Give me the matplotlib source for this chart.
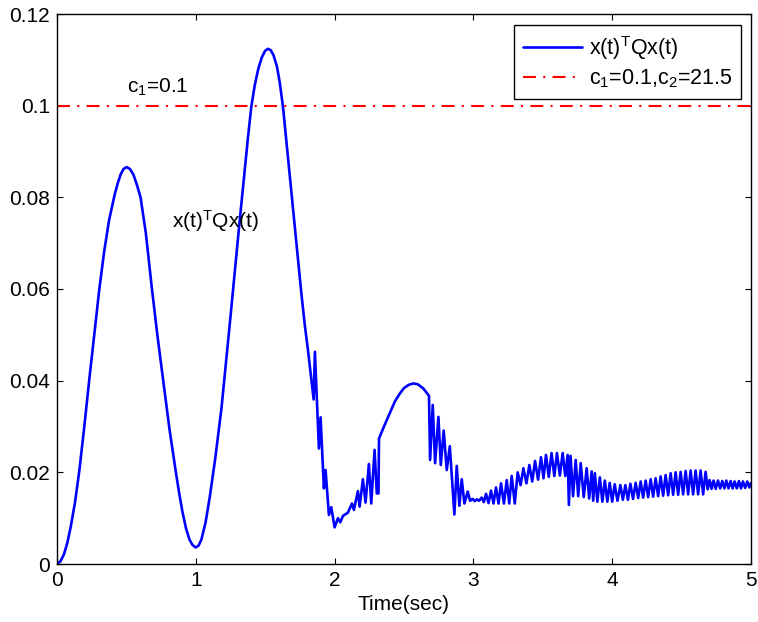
import matplotlib
matplotlib.use("Agg")
import matplotlib.pyplot as plt
import numpy as np

plt.rcParams['font.family'] = ['Liberation Sans', 'DejaVu Sans']
plt.rcParams['mathtext.fontset'] = 'custom'
plt.rcParams['mathtext.rm'] = 'Liberation Sans'
plt.rcParams['mathtext.it'] = 'Liberation Sans:italic'
plt.rcParams['mathtext.bf'] = 'Liberation Sans:bold'

# ---- data ----
# smooth start (two humps)
t_smooth = [0.000, 0.025, 0.050, 0.075, 0.100, 0.130, 0.161, 0.195, 0.232, 0.268, 0.305, 0.340, 0.375,
            0.417, 0.440, 0.460, 0.480, 0.501, 0.525, 0.550, 0.575, 0.602, 0.640, 0.684, 0.725, 0.765,
            0.810, 0.856, 0.880, 0.905, 0.930, 0.955, 0.975, 0.998, 1.020, 1.040, 1.070, 1.101, 1.140,
            1.185, 1.220, 1.250, 1.280, 1.312, 1.350, 1.375, 1.400, 1.425, 1.450, 1.475, 1.500, 1.520,
            1.540, 1.560, 1.585, 1.605, 1.628, 1.650, 1.670, 1.690, 1.712, 1.735, 1.760, 1.785, 1.808,
            1.830, 1.849]
v_smooth = [0.0000, 0.0006, 0.0021, 0.0047, 0.0083, 0.0135, 0.0204, 0.0295, 0.0401, 0.0500, 0.0600, 0.0682, 0.0750,
            0.0808, 0.0833, 0.0851, 0.0862, 0.0866, 0.0862, 0.0850, 0.0828, 0.0800, 0.0722, 0.0600, 0.0495, 0.0401,
            0.0295, 0.0201, 0.0155, 0.0112, 0.0077, 0.0053, 0.0042, 0.0036, 0.0040, 0.0053, 0.0090, 0.0147, 0.0230,
            0.0340, 0.0447, 0.0540, 0.0636, 0.0736, 0.0852, 0.0928, 0.0998, 0.1045, 0.1080, 0.1105, 0.1120, 0.1124,
            0.1121, 0.1110, 0.1085, 0.1050, 0.0998, 0.0930, 0.0868, 0.0805, 0.0736, 0.0666, 0.0592, 0.0522, 0.0467,
            0.0410, 0.0359]

# first switching burst
t_burst1 = [1.858, 1.887, 1.899, 1.923, 1.935, 1.959, 1.976, 2.000, 2.024, 2.041, 2.060, 2.075, 2.096,
            2.125, 2.139, 2.168, 2.180, 2.204, 2.223, 2.247, 2.264, 2.288, 2.304, 2.316]
v_burst1 = [0.0463, 0.0252, 0.0320, 0.0165, 0.0205, 0.0107, 0.0124, 0.0080, 0.0100, 0.0091, 0.0105, 0.0108, 0.0112,
            0.0132, 0.0118, 0.0159, 0.0125, 0.0185, 0.0134, 0.0218, 0.0132, 0.0249, 0.0154, 0.0154]

# smooth middle hump
t_hump = [2.320, 2.360, 2.400, 2.435, 2.468, 2.500, 2.535, 2.567, 2.600, 2.639, 2.680]
v_hump = [0.0274, 0.0303, 0.0331, 0.0355, 0.0371, 0.0384, 0.0391, 0.0394, 0.0392, 0.0383, 0.0367]

# second switching burst
t_burst2 = [2.688, 2.707, 2.724, 2.748, 2.765, 2.786, 2.808, 2.830, 2.863, 2.880, 2.899, 2.916,
            2.935, 2.959, 2.976, 2.995, 3.010, 3.025, 3.040, 3.055]
v_burst2 = [0.0227, 0.0347, 0.0220, 0.0321, 0.0216, 0.0291, 0.0205, 0.0257, 0.0108, 0.0214, 0.0127, 0.0185,
            0.0132, 0.0158, 0.0138, 0.0142, 0.0137, 0.0141, 0.0138, 0.0143]

# chattering tail
t_tail = [3.059, 3.075, 3.091, 3.109, 3.127, 3.145, 3.163, 3.181, 3.199, 3.220, 3.240, 3.258, 3.276, 3.298,
          3.319, 3.340, 3.360, 3.382, 3.403, 3.424, 3.444, 3.466, 3.487, 3.505, 3.523, 3.543, 3.563, 3.583,
          3.602, 3.623, 3.643, 3.662, 3.679, 3.688, 3.700, 3.718, 3.737, 3.755, 3.773, 3.795, 3.816, 3.834,
          3.852, 3.863, 3.875, 3.893, 3.911, 3.929, 3.947, 3.965, 3.982, 4.000, 4.018, 4.038, 4.059, 4.077,
          4.095, 4.113, 4.131, 4.150, 4.169, 4.187, 4.205, 4.223, 4.241, 4.259, 4.277, 4.295, 4.313, 4.331,
          4.349, 4.367, 4.385, 4.403, 4.421, 4.439, 4.457, 4.475, 4.493, 4.511, 4.529, 4.547, 4.565, 4.583,
          4.601, 4.619, 4.637, 4.655, 4.673, 4.688, 4.702, 4.716, 4.730, 4.746, 4.762, 4.778, 4.793, 4.808,
          4.822, 4.838, 4.853, 4.868, 4.882, 4.898, 4.913, 4.928, 4.942, 4.958, 4.973, 4.988, 5.000]
v_tail = [0.0145, 0.0135, 0.0153, 0.0133, 0.0160, 0.0132, 0.0167, 0.0132, 0.0176, 0.0132, 0.0183, 0.0132, 0.0192, 0.0132,
          0.0200, 0.0172, 0.0209, 0.0176, 0.0216, 0.0180, 0.0225, 0.0184, 0.0233, 0.0187, 0.0238, 0.0190, 0.0242, 0.0192,
          0.0242, 0.0193, 0.0242, 0.0192, 0.0238, 0.0129, 0.0236, 0.0148, 0.0227, 0.0148, 0.0220, 0.0146, 0.0209, 0.0143,
          0.0202, 0.0138, 0.0198, 0.0136, 0.0189, 0.0136, 0.0182, 0.0136, 0.0177, 0.0136, 0.0174, 0.0138, 0.0172, 0.0140,
          0.0172, 0.0140, 0.0175, 0.0142, 0.0177, 0.0144, 0.0180, 0.0145, 0.0182, 0.0146, 0.0185, 0.0147, 0.0187, 0.0148,
          0.0191, 0.0149, 0.0194, 0.0150, 0.0198, 0.0151, 0.0200, 0.0151, 0.0201, 0.0152, 0.0203, 0.0152, 0.0204, 0.0152,
          0.0204, 0.0152, 0.0204, 0.0152, 0.0201, 0.0163, 0.0183, 0.0164, 0.0182, 0.0164, 0.0182, 0.0165, 0.0181, 0.0165,
          0.0182, 0.0165, 0.0181, 0.0165, 0.0180, 0.0165, 0.0181, 0.0165, 0.0180, 0.0166, 0.0180, 0.0167, 0.0177]

c1 = 0.1
series_label = r'x(t)$^{\rm T}$Qx(t)'
bound_label = r'c$_{\rm 1}$=0.1,c$_{\rm 2}$=21.5'
x_ticks = [0, 1, 2, 3, 4, 5]
y_ticks = [0, 0.02, 0.04, 0.06, 0.08, 0.1, 0.12]
y_ticklabels = ['0', '0.02', '0.04', '0.06', '0.08', '0.1', '0.12']

t_all = np.array(t_smooth + t_burst1 + t_hump + t_burst2 + t_tail)
v_all = np.array(v_smooth + v_burst1 + v_hump + v_burst2 + v_tail)

fig = plt.figure(figsize=(7.58, 6.22), dpi=100)
ax = fig.add_axes([57/758, 1-564/622, (751-57)/758, (564-14)/622])

ax.plot(t_all, v_all, color='#0000ff', lw=1.9, label=series_label,
        solid_joinstyle='round', solid_capstyle='round')
ax.axhline(c1, color='#ff0000', lw=1.5, ls=(0, (6.2, 3.5, 1, 3.5)), label=bound_label)

ax.set_xlim(0, 5)
ax.set_ylim(0, 0.12)
ax.set_xticks(x_ticks)
ax.set_yticks(y_ticks)
ax.set_yticklabels(y_ticklabels)
ax.tick_params(direction='in', length=4.5, width=0.8, top=True, right=True,
               labelsize=15, pad=5)
for s in ax.spines.values():
    s.set_linewidth(1.0)
ax.set_xlabel('Time(sec)', fontsize=15, labelpad=4)

ax.text(0.504, 0.1028, r'c$_{\rm 1}$=0.1', fontsize=15, ha='left', va='baseline')
ax.text(0.829, 0.0733, series_label, fontsize=15, ha='left', va='baseline')

leg = ax.legend(loc='upper right', bbox_to_anchor=((741-57)/694, (564-25)/550),
                borderaxespad=0, fontsize=15.5, frameon=True, fancybox=False,
                edgecolor='black', framealpha=1, handlelength=2.75, handletextpad=0.31,
                labelspacing=0.27, borderpad=0.4)
leg.get_frame().set_linewidth(1.0)

fig.savefig('out.png', dpi=100)
